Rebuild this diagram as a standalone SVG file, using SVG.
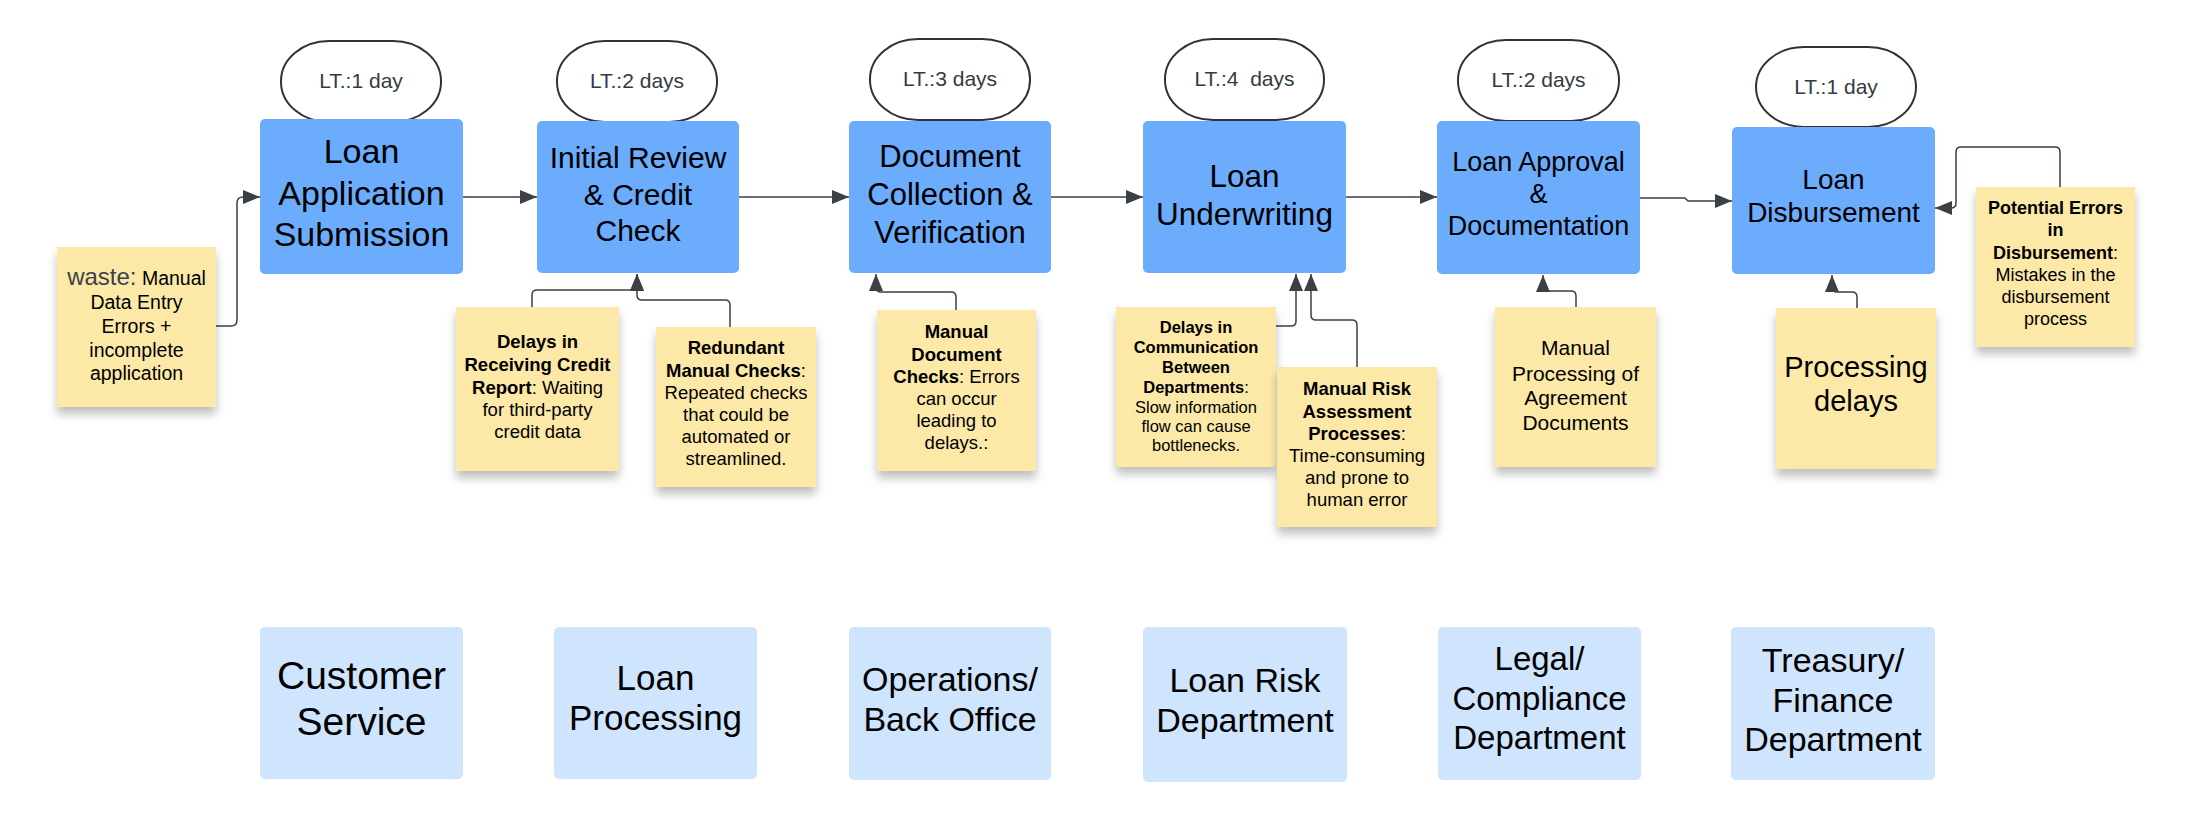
<svg xmlns="http://www.w3.org/2000/svg" width="2193" height="822" viewBox="0 0 2193 822">
<style>
text{font-family:"Liberation Sans",Arial,sans-serif;text-anchor:middle;fill:#000}
.pill{fill:#fff;stroke:#2f3338;stroke-width:2}
.pt{font-size:21px;fill:#333a44}
.proc{fill:#6cacfd}
.dept{fill:#cfe4fd}
.note{fill:#fde9a7;filter:url(#sh)}
.b{font-weight:bold}
.con{fill:none;stroke:#3b4047;stroke-width:1.5}
.arr{marker-end:url(#ah)}
</style>
<defs>
<filter id="sh" x="-20%" y="-20%" width="140%" height="150%">
<feDropShadow dx="0" dy="7" stdDeviation="5" flood-color="#000" flood-opacity="0.25"/>
</filter>
<marker id="ah" markerUnits="userSpaceOnUse" markerWidth="18" markerHeight="14" refX="17" refY="7" orient="auto">
<path d="M0,0 L17,7 L0,14 z" fill="#3b4047"/>
</marker>
</defs>

<g id="connectors">
<path class="con arr" d="M216,326 H231 Q237,326 237,320 V203 Q237,197 243,197 H260"/>
<path class="con arr" d="M463,197 H537"/>
<path class="con arr" d="M739,197 H849"/>
<path class="con arr" d="M1051,197 H1143"/>
<path class="con arr" d="M1346,197 H1437"/>
<path class="con arr" d="M1640,198 H1685 L1688,201 H1732"/>
<path class="con arr" d="M532,307 V295 Q532,290 537,290 H632 Q637,290 637,285 V274"/>
<path class="con arr" d="M730,327 V305 Q730,300 725,300 H642 Q637,300 637,295 V274"/>
<path class="con arr" d="M956,310 V297 Q956,292 951,292 H881 Q876,292 876,287 V274"/>
<path class="con arr" d="M1276,326 H1291 Q1296,326 1296,321 V274"/>
<path class="con arr" d="M1357,367 V325 Q1357,320 1352,320 H1316 Q1311,320 1311,315 V274"/>
<path class="con arr" d="M1576,307 V296 Q1576,291 1571,291 H1548 Q1543,291 1543,286 V275"/>
<path class="con arr" d="M1857,308 V297 Q1857,292 1852,292 H1837 Q1832,292 1832,287 V275"/>
<path class="con arr" d="M2060,187 V152 Q2060,147 2055,147 H1961 Q1956,147 1956,152 V203 Q1956,208 1951,208 H1935"/>
</g>

<g id="lt1"><rect class="pill" x="281" y="41" width="160" height="81" rx="48" ry="40"/><text class="pt" x="361" y="88">LT.:1 day</text></g>
<g id="lt2"><rect class="pill" x="557" y="41" width="160" height="81" rx="48" ry="40"/><text class="pt" x="637" y="88">LT.:2 days</text></g>
<g id="lt3"><rect class="pill" x="870" y="39" width="160" height="81" rx="48" ry="40"/><text class="pt" x="950" y="86">LT.:3 days</text></g>
<g id="lt4"><rect class="pill" x="1165" y="39" width="159" height="81" rx="48" ry="40"/><text class="pt" x="1244.5" y="86" xml:space="preserve">LT.:4  days</text></g>
<g id="lt5"><rect class="pill" x="1458" y="40" width="161" height="81" rx="48" ry="40"/><text class="pt" x="1538.5" y="87">LT.:2 days</text></g>
<g id="lt6"><rect class="pill" x="1756" y="47" width="160" height="80" rx="48" ry="40"/><text class="pt" x="1836" y="94">LT.:1 day</text></g>

<g id="p1"><rect class="proc" x="260" y="119" width="203" height="155" rx="5"/>
<text font-size="34" x="361.5" y="163">Loan</text><text font-size="34" x="361.5" y="205">Application</text><text font-size="34" x="361.5" y="246">Submission</text></g>
<g id="p2"><rect class="proc" x="537" y="121" width="202" height="152" rx="5"/>
<text font-size="30" x="638" y="168">Initial Review</text><text font-size="30" x="638" y="205">&amp; Credit</text><text font-size="30" x="638" y="241">Check</text></g>
<g id="p3"><rect class="proc" x="849" y="121" width="202" height="152" rx="5"/>
<text font-size="31" x="950" y="167">Document</text><text font-size="31" x="950" y="205">Collection &amp;</text><text font-size="31" x="950" y="243">Verification</text></g>
<g id="p4"><rect class="proc" x="1143" y="121" width="203" height="152" rx="5"/>
<text font-size="31.5" x="1244.5" y="187">Loan</text><text font-size="31.5" x="1244.5" y="225">Underwriting</text></g>
<g id="p5"><rect class="proc" x="1437" y="121" width="203" height="153" rx="5"/>
<text font-size="27" x="1538.5" y="171">Loan Approval</text><text font-size="27" x="1538.5" y="203">&amp;</text><text font-size="27" x="1538.5" y="235">Documentation</text></g>
<g id="p6"><rect class="proc" x="1732" y="127" width="203" height="147" rx="5"/>
<text font-size="28" x="1833.5" y="189">Loan</text><text font-size="28" x="1833.5" y="222">Disbursement</text></g>

<g id="n-waste"><rect class="note" x="57" y="247" width="159" height="160"/>
<text font-size="19.5" x="136.5" y="285"><tspan font-size="24" fill="#3a414a">waste:</tspan> Manual</text>
<text font-size="19.5" x="136.5" y="309">Data Entry</text>
<text font-size="19.5" x="136.5" y="333">Errors +</text>
<text font-size="19.5" x="136.5" y="357">incomplete</text>
<text font-size="19.5" x="136.5" y="380">application</text></g>

<g id="n-credit"><rect class="note" x="456" y="307" width="163" height="164"/>
<text font-size="18.5" x="537.5" y="348" class="b">Delays in</text>
<text font-size="18.5" x="537.5" y="371" class="b">Receiving Credit</text>
<text font-size="18.5" x="537.5" y="394"><tspan class="b">Report</tspan>: Waiting</text>
<text font-size="18.5" x="537.5" y="416">for third-party</text>
<text font-size="18.5" x="537.5" y="438">credit data</text></g>

<g id="n-redundant"><rect class="note" x="656" y="327" width="160" height="160"/>
<text font-size="18.5" x="736" y="354" class="b">Redundant</text>
<text font-size="18.5" x="736" y="377"><tspan class="b">Manual Checks</tspan>:</text>
<text font-size="18.5" x="736" y="399">Repeated checks</text>
<text font-size="18.5" x="736" y="421">that could be</text>
<text font-size="18.5" x="736" y="443">automated or</text>
<text font-size="18.5" x="736" y="465">streamlined.</text></g>

<g id="n-docchecks"><rect class="note" x="877" y="310" width="159" height="161"/>
<text font-size="18.5" x="956.5" y="338" class="b">Manual</text>
<text font-size="18.5" x="956.5" y="361" class="b">Document</text>
<text font-size="18.5" x="956.5" y="383"><tspan class="b">Checks</tspan>: Errors</text>
<text font-size="18.5" x="956.5" y="405">can occur</text>
<text font-size="18.5" x="956.5" y="427">leading to</text>
<text font-size="18.5" x="956.5" y="449">delays.:</text></g>

<g id="n-comm"><rect class="note" x="1116" y="307" width="160" height="160"/>
<text font-size="16.5" x="1196" y="333" class="b">Delays in</text>
<text font-size="16.5" x="1196" y="353" class="b">Communication</text>
<text font-size="16.5" x="1196" y="373" class="b">Between</text>
<text font-size="16.5" x="1196" y="393"><tspan class="b">Departments</tspan>:</text>
<text font-size="16.5" x="1196" y="413">Slow information</text>
<text font-size="16.5" x="1196" y="432">flow can cause</text>
<text font-size="16.5" x="1196" y="451">bottlenecks.</text></g>

<g id="n-risk"><rect class="note" x="1277" y="367" width="160" height="160"/>
<text font-size="18.5" x="1357" y="395" class="b">Manual Risk</text>
<text font-size="18.5" x="1357" y="418" class="b">Assessment</text>
<text font-size="18.5" x="1357" y="440"><tspan class="b">Processes</tspan>:</text>
<text font-size="18.5" x="1357" y="462">Time-consuming</text>
<text font-size="18.5" x="1357" y="484">and prone to</text>
<text font-size="18.5" x="1357" y="506">human error</text></g>

<g id="n-agreement"><rect class="note" x="1495" y="307" width="161" height="160"/>
<text font-size="21" x="1575.5" y="355">Manual</text>
<text font-size="21" x="1575.5" y="381">Processing of</text>
<text font-size="21" x="1575.5" y="405">Agreement</text>
<text font-size="21" x="1575.5" y="430">Documents</text></g>

<g id="n-delays"><rect class="note" x="1776" y="308" width="160" height="161"/>
<text font-size="29" x="1856" y="377">Processing</text>
<text font-size="29" x="1856" y="411">delays</text></g>

<g id="n-errors"><rect class="note" x="1976" y="187" width="159" height="160"/>
<text font-size="18" x="2055.5" y="214" class="b">Potential Errors</text>
<text font-size="18" x="2055.5" y="236" class="b">in</text>
<text font-size="18" x="2055.5" y="259"><tspan class="b">Disbursement</tspan>:</text>
<text font-size="18" x="2055.5" y="281">Mistakes in the</text>
<text font-size="18" x="2055.5" y="303">disbursement</text>
<text font-size="18" x="2055.5" y="325">process</text></g>

<g id="d1"><rect class="dept" x="260" y="627" width="203" height="152" rx="5"/>
<text font-size="39" x="361.5" y="689">Customer</text><text font-size="39" x="361.5" y="735">Service</text></g>
<g id="d2"><rect class="dept" x="554" y="627" width="203" height="152" rx="5"/>
<text font-size="35" x="655.5" y="690">Loan</text><text font-size="35" x="655.5" y="730">Processing</text></g>
<g id="d3"><rect class="dept" x="849" y="627" width="202" height="153" rx="5"/>
<text font-size="34" x="950" y="691">Operations/</text><text font-size="34" x="950" y="731">Back Office</text></g>
<g id="d4"><rect class="dept" x="1143" y="627" width="204" height="155" rx="5"/>
<text font-size="34" x="1245" y="692">Loan Risk</text><text font-size="34" x="1245" y="732">Department</text></g>
<g id="d5"><rect class="dept" x="1438" y="627" width="203" height="153" rx="5"/>
<text font-size="33" x="1539.5" y="670">Legal/</text><text font-size="33" x="1539.5" y="710">Compliance</text><text font-size="33" x="1539.5" y="749">Department</text></g>
<g id="d6"><rect class="dept" x="1731" y="627" width="204" height="153" rx="5"/>
<text font-size="34" x="1833" y="672">Treasury/</text><text font-size="34" x="1833" y="712">Finance</text><text font-size="34" x="1833" y="751">Department</text></g>
</svg>
